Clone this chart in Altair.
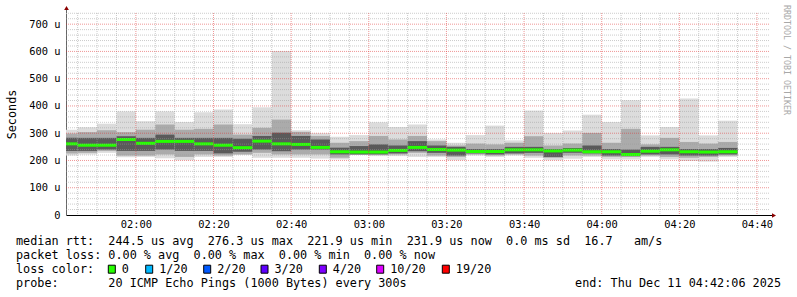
import altair as alt
import pandas as pd

MONO = "DejaVu Sans Mono"
NB = "\u00a0"

# ---- data (minutes after midnight; values in microseconds) ----
N_BARS = 35
bar_start = [100 + 5 * k for k in range(N_BARS)]   # 01:40, 01:45, ... 04:30
bar_end = [s + 5 for s in bar_start]

median = [261, 256, 256, 277, 263, 270, 270, 261, 256, 247, 271, 261, 259, 248, 232,
          231, 231, 237, 248, 240, 238, 233, 233, 239, 239, 235, 238, 232, 232, 222,
          234, 239, 232, 231, 232]
ping_max = [313, 322, 335, 380, 344, 380, 341, 377, 387, 333, 395, 602, 311, 300, 287,
            293, 340, 323, 332, 277, 265, 293, 328, 274, 383, 301, 310, 368, 341, 421,
            292, 323, 427, 292, 346]
ping_min = [218, 222, 228, 212, 213, 208, 201, 213, 213, 221, 210, 210, 210, 207, 204,
            220, 216, 216, 213, 213, 201, 218, 213, 218, 210, 201, 206, 213, 204, 204,
            213, 204, 198, 196, 213]
mid_hi = [299, 304, 311, 304, 313, 332, 313, 316, 332, 295, 320, 350, 305, 290, 265,
          271, 290, 277, 290, 271, 255, 262, 259, 265, 289, 255, 262, 301, 265, 316,
          259, 283, 268, 262, 268]
mid_lo = [226, 228, 235, 218, 218, 222, 213, 222, 218, 222, 228, 222, 222, 222, 210,
          222, 222, 222, 228, 218, 213, 222, 218, 222, 218, 210, 218, 218, 213, 213,
          218, 213, 210, 213, 218]
dark_hi = [283, 283, 283, 289, 283, 295, 283, 283, 283, 280, 290, 302, 290, 277, 247,
           253, 259, 255, 271, 255, 250, 242, 242, 250, 250, 242, 246, 255, 242, 240,
           250, 250, 242, 242, 246]
dark_lo = [235, 235, 240, 235, 235, 240, 235, 235, 226, 232, 240, 234, 240, 240, 222,
           222, 222, 226, 234, 228, 218, 226, 222, 226, 228, 213, 228, 226, 218, 216,
           222, 222, 218, 218, 222]

y_ticks = [0, 100, 200, 300, 400, 500, 600, 700]
x_ticks = [120, 140, 160, 180, 200, 220, 240, 260, 280]
y_minor = [v for v in range(20, 741, 20) if v % 100]
y_major = [100, 200, 300, 400, 500, 600, 700]
x_minor = [m for m in range(105, 284, 5) if m % 20]
x_major = x_ticks

line1 = "median rtt:  244.5 us avg  276.3 us max  221.9 us min  231.9 us now  0.0 ms sd  16.7   am/s"
line2 = "packet loss: 0.00 % avg  0.00 % max  0.00 % min  0.00 % now"
line3 = "loss color:"
line4 = "probe:       20 ICMP Echo Pings (1000 Bytes) every 300s"
end_text = "end: Thu Dec 11 04:42:06 2025"
watermark = "RRDTOOL / TOBI OETIKER"
loss_labels = ["0", "1/20", "2/20", "3/20", "4/20", "10/20", "19/20"]
loss_colors = ["#26ff00", "#00b8ff", "#0059ff", "#5e00ff", "#7e00ff", "#dd00ff", "#ff0000"]

# ---- layout (pixels, relative to plot origin) ----
PAD_L, PAD_T = 66, 13
W, H = 703, 202
FS = 11.8
box_left_page = [108.3, 145.7, 203.7, 261.0, 319.3, 376.7, 442.3]

df = pd.DataFrame({"t0": bar_start, "t1": bar_end, "med": median,
                   "mx": ping_max, "mn": ping_min, "mh": mid_hi, "ml": mid_lo,
                   "dh": dark_hi, "dl": dark_lo})

xs = alt.Scale(domain=[102.0, 283.1], nice=False, zero=False)
ys = alt.Scale(domain=[0, 741], nice=False, zero=False)

xaxis = alt.Axis(values=x_ticks, grid=False, ticks=False, labelFont=MONO, labelFontSize=10.4,
                 labelColor="#000000", labelPadding=4, domainColor="#000000", title="",
                 labelExpr="(floor(datum.value/60) < 10 ? '0' : '') + floor(datum.value/60) + ':' + "
                           "(datum.value % 60 < 10 ? '0' : '') + (datum.value % 60)")
yaxis = alt.Axis(values=y_ticks, grid=False, ticks=False, labelFont=MONO, labelFontSize=10.4,
                 labelColor="#000000", labelPadding=6, domainColor="#666666",
                 labelExpr="datum.value == 0 ? '0" + NB + NB + "' : datum.value + '" + NB + "u'",
                 title="Seconds", titleFont=MONO, titleFontSize=FS, titleFontWeight="normal",
                 titleColor="#000000", titleX=-55, titleY=H / 2, titleAngle=270,
                 titleAlign="center", titleBaseline="middle")


def X(f):
    return alt.X(f, type="quantitative", scale=xs, axis=xaxis)


def Y(f):
    return alt.Y(f, type="quantitative", scale=ys, axis=yaxis)


base = alt.Chart(df)
outer = base.mark_rect(color="#dcdcdc", clip=True).encode(x=X("t0"), x2="t1", y=Y("mn"), y2="mx")
mid = base.mark_rect(color="#ababab", clip=True).encode(x=X("t0"), x2="t1", y=Y("ml"), y2="mh")
dark = base.mark_rect(color="#5a5a5a", clip=True).encode(x=X("t0"), x2="t1", y=Y("dl"), y2="dh")
med = base.mark_rule(color="#26ff00", strokeWidth=3, clip=True).encode(x=X("t0"), x2="t1", y=Y("med"))

gy_minor = alt.Chart(pd.DataFrame({"v": y_minor})).mark_rule(
    color="#9a9a9a", strokeWidth=1, strokeDash=[1, 1], opacity=0.5).encode(y=Y("v"))
gx_minor = alt.Chart(pd.DataFrame({"m": x_minor})).mark_rule(
    color="#9a9a9a", strokeWidth=1, strokeDash=[1, 1], opacity=0.5).encode(x=X("m"))
gy_major = alt.Chart(pd.DataFrame({"v": y_major})).mark_rule(
    color="#e03030", strokeWidth=1, strokeDash=[1, 1], opacity=0.5).encode(y=Y("v"))
gx_major = alt.Chart(pd.DataFrame({"m": x_major})).mark_rule(
    color="#e03030", strokeWidth=1, strokeDash=[1, 1], opacity=0.5).encode(x=X("m"))

one = pd.DataFrame({"a": [0]})


def txt(s, px, py, **kw):
    props = dict(align="left", baseline="middle", font=MONO, fontSize=FS, color="#000000")
    props.update(kw)
    return alt.Chart(one).mark_text(text=s.replace(" ", NB), **props).encode(
        x=alt.value(px), y=alt.value(py))


layers = [outer, mid, dark, med, gy_minor, gx_minor, gy_major, gx_major]

# axis extensions and arrows
layers.append(alt.Chart(one).mark_rule(color="#666666").encode(
    x=alt.value(0.5), y=alt.value(-4), y2=alt.value(0)))
layers.append(alt.Chart(one).mark_rule(color="#000000").encode(
    x=alt.value(W), x2=alt.value(W + 4), y=alt.value(H + 0.5)))
layers.append(alt.Chart(one).mark_point(shape="triangle-up", filled=True, color="#8b0000",
                                        size=22, opacity=1).encode(x=alt.value(0.5), y=alt.value(-5)))
layers.append(alt.Chart(one).mark_point(shape="triangle-right", filled=True, color="#8b0000",
                                        size=22, opacity=1).encode(x=alt.value(W + 5), y=alt.value(H + 0.5)))

# legend text
L = 16 - PAD_L
layers.append(txt(line1, L, 240.7 - PAD_T))
layers.append(txt(line2, L, 255.0 - PAD_T))
layers.append(txt(line3, L, 269.3 - PAD_T))
layers.append(txt(line4, L, 283.3 - PAD_T))
layers.append(txt(end_text, 781 - PAD_L, 283.3 - PAD_T, align="right"))
for bl, lab, col in zip(box_left_page, loss_labels, loss_colors):
    layers.append(alt.Chart(one).mark_rect(fill=col, stroke="#000000", strokeWidth=1).encode(
        x=alt.value(bl - PAD_L), x2=alt.value(bl - PAD_L + 7),
        y=alt.value(265.2 - PAD_T), y2=alt.value(273.2 - PAD_T)))
    layers.append(txt(lab, bl - PAD_L + 13.5, 269.3 - PAD_T))

layers.append(txt(watermark, 786 - PAD_L, 5 - PAD_T, angle=90, fontSize=8.3, color="#a8a8a8"))

chart = alt.layer(*layers).properties(
    width=W, height=H,
    autosize=alt.AutoSizeParams(type="none"),
    padding={"left": PAD_L, "top": PAD_T, "right": 797 - PAD_L - W, "bottom": 297 - PAD_T - H},
    background="#ffffff",
).configure_view(stroke=None)

chart.save("out.html", embed_options={"renderer": "svg", "actions": False})
